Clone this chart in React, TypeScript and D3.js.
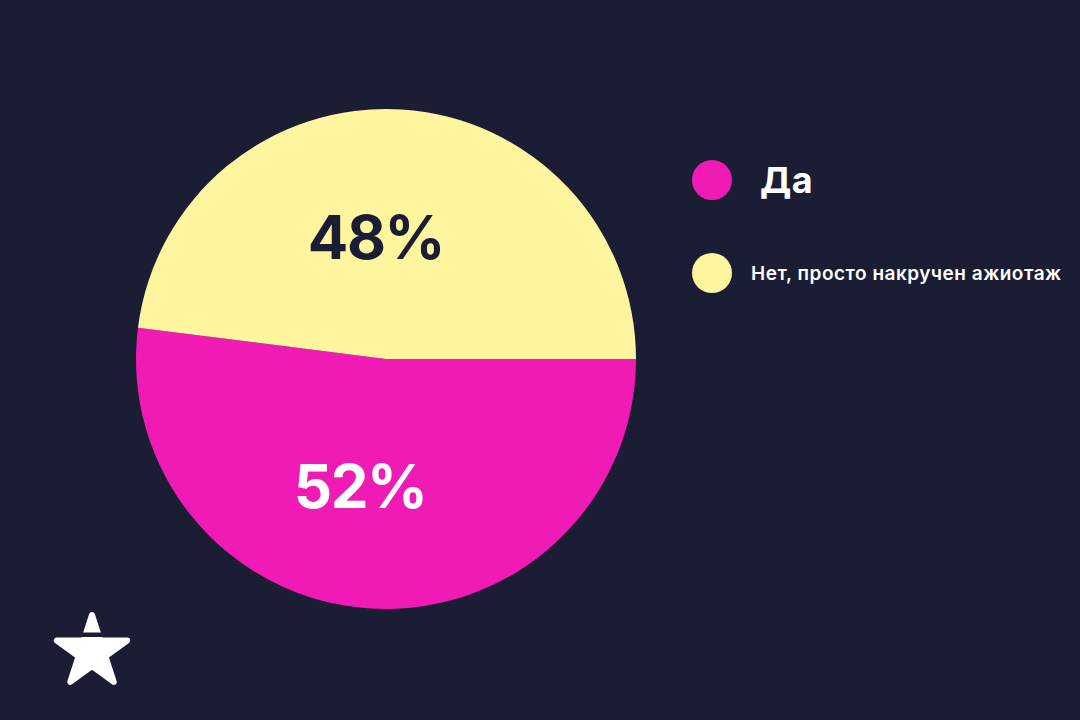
import React from 'react';
import * as d3 from 'd3';

const categories = ['Да', 'Нет, просто накручен ажиотаж'];
const values = [52, 48];
const colors = ['#f01ab4', '#fff59e'];
const labelColors = ['#ffffff', '#1a1d33'];

const W = 1080;
const H = 720;
const BG = '#1a1d33';
const FONT = 'Inter, "Noto Sans", sans-serif';

export default function App() {
    const cx = 386;
    const cy = 359;
    const radius = 250;

    // start at 3 o'clock and go clockwise
    const pie = d3.pie<number>()
        .sort(null)
        .startAngle(Math.PI / 2)
        .endAngle(Math.PI / 2 + 2 * Math.PI);
    const arcs = pie(values);

    const arc = d3.arc<d3.PieArcDatum<number>>()
        .innerRadius(0)
        .outerRadius(radius);

    const labelArc = d3.arc<d3.PieArcDatum<number>>()
        .innerRadius(0)
        .outerRadius(250);

    // star logo (regular 5-point star)
    const starR = 37;
    const starC: [number, number] = [92, 652];
    const starPts: [number, number][] = d3.range(10).map(i => {
        const a = (i * Math.PI) / 5;
        const r = i % 2 === 0 ? starR : starR * 0.382;
        return [starC[0] + r * Math.sin(a), starC[1] - r * Math.cos(a)];
    });
    const starPath = d3.line()(starPts) + 'Z';

    const legendY = d3.scalePoint<string>()
        .domain(categories)
        .range([180, 273]);

    return (
        <svg width={W} height={H} style={{ position: 'absolute', left: 0, top: 0, display: 'block' }}>
            <rect width={W} height={H} fill={BG} />
            <g transform={`translate(${cx},${cy})`}>
                {arcs.map((a, i) => (
                    <path key={i} d={arc(a) || ''} fill={colors[i]} />
                ))}
                {arcs.map((a, i) => {
                    const [x, y] = labelArc.centroid(a);
                    return (
                        <text
                            key={'l' + i}
                            x={x - 18}
                            y={y + 3}
                            dy="0.36em"
                            textAnchor="middle"
                            fontFamily={FONT}
                            fontWeight={700}
                            fontSize={60}
                            letterSpacing={-1.5}
                            fill={labelColors[i]}
                        >
                            {values[i]}%
                        </text>
                    );
                })}
            </g>

            {categories.map((c, i) => (
                <g key={c} transform={`translate(712,${legendY(c)})`}>
                    <circle r={20} fill={colors[i]} />
                    <text
                        x={i === 0 ? 48 : 39}
                        dy="0.36em"
                        fontFamily={FONT}
                        fontWeight={i === 0 ? 700 : 600}
                        fontSize={i === 0 ? 36 : 19}
                        letterSpacing={i === 0 ? 0.5 : 0.5}
                        fill="#ffffff"
                    >
                        {c}
                    </text>
                </g>
            ))}

            <path d={starPath} fill="#ffffff" stroke="#ffffff" strokeWidth={6} strokeLinejoin="round" />
            <rect x={40} y={632.5} width={110} height={4.5} fill={BG} />
        </svg>
    );
}
